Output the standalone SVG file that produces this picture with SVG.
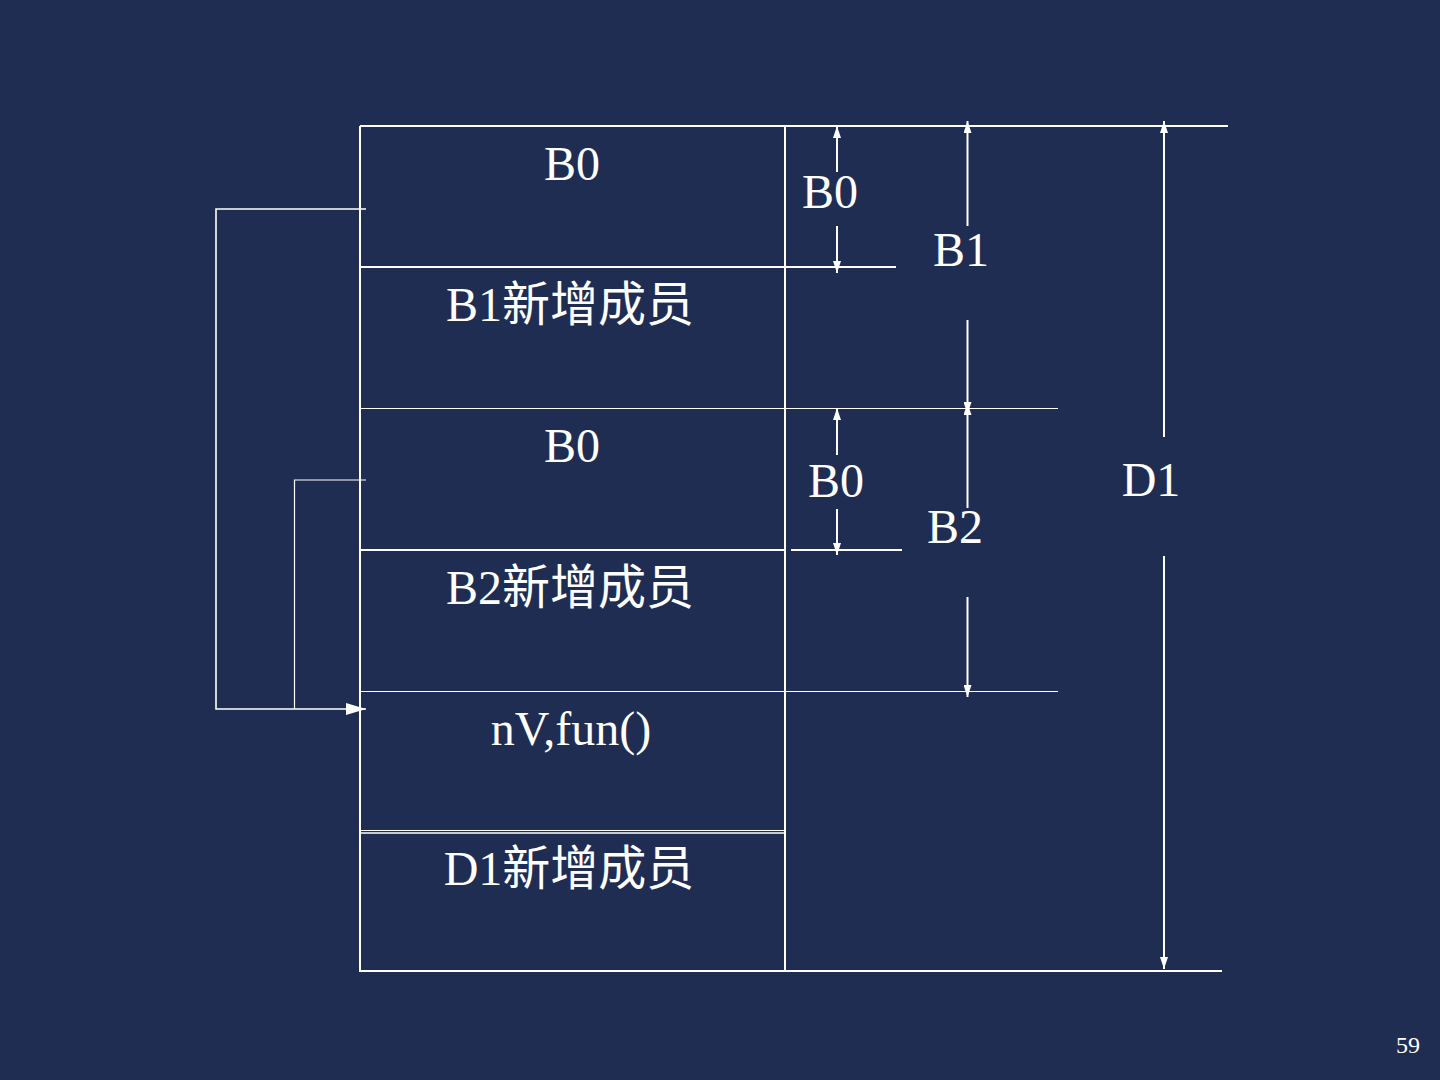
<svg xmlns="http://www.w3.org/2000/svg" width="1440" height="1080" viewBox="0 0 1440 1080">
<style>
.ln{stroke:#ffffff;fill:none}
.t{fill:#ffffff;font-family:"Liberation Serif","Noto Sans CJK SC",serif;font-size:48px;text-anchor:middle}
.pg{fill:#ffffff;font-family:"Liberation Serif",serif;font-size:24px;text-anchor:middle}
</style>
<defs>
<marker id="dim" markerUnits="userSpaceOnUse" viewBox="0 0 12 8" refX="12" refY="4" markerWidth="12" markerHeight="8" orient="auto">
<path d="M0,0 L12,4 L0,8 Z" fill="#ffffff"/>
</marker>
<marker id="big" markerUnits="userSpaceOnUse" viewBox="0 0 20 12" refX="20" refY="6" markerWidth="20" markerHeight="12" orient="auto">
<path d="M0,0 L20,6 L0,12 Z" fill="#ffffff"/>
</marker>
</defs>
<rect x="0" y="0" width="1440" height="1080" fill="#1f2d52"/>

<g id="frame">
<line class="ln" x1="360" y1="126" x2="1228" y2="126" stroke-width="2"/>
<line class="ln" x1="360" y1="126" x2="360" y2="972" stroke-width="2"/>
<line class="ln" x1="785" y1="126" x2="785" y2="972" stroke-width="2"/>
<line class="ln" x1="360" y1="267" x2="896" y2="267" stroke-width="2"/>
<line class="ln" x1="360" y1="408.5" x2="1058" y2="408.5" stroke-width="1"/>
<line class="ln" x1="360" y1="550" x2="785" y2="550" stroke-width="2"/>
<line class="ln" x1="791" y1="550" x2="902" y2="550" stroke-width="2"/>
<line class="ln" x1="360" y1="691.5" x2="1058" y2="691.5" stroke-width="1"/>
<line class="ln" x1="360" y1="830.5" x2="785" y2="830.5" stroke-width="1"/>
<line class="ln" x1="360" y1="833" x2="785" y2="833" stroke-width="1.5"/>
<line class="ln" x1="360" y1="971" x2="1222" y2="971" stroke-width="2"/>
</g>

<g id="node-b0-top"><text class="t" x="572" y="180">B0</text></g>
<g id="node-b1-new"><text class="t" x="570" y="321">B1新增成员</text></g>
<g id="node-b0-mid"><text class="t" x="572" y="462">B0</text></g>
<g id="node-b2-new"><text class="t" x="570" y="604">B2新增成员</text></g>
<g id="node-nv"><text class="t" x="571" y="745">nV,fun()</text></g>
<g id="node-d1-new"><text class="t" x="569" y="885">D1新增成员</text></g>

<g id="dim-labels">
<text class="t" x="830" y="208">B0</text>
<text class="t" x="961" y="266">B1</text>
<text class="t" x="836" y="497">B0</text>
<text class="t" x="955" y="543">B2</text>
<text class="t" x="1151" y="496">D1</text>
</g>

<g id="connectors">
<line class="ln" x1="837" y1="172" x2="837" y2="126" stroke-width="2" marker-end="url(#dim)"/>
<line class="ln" x1="837" y1="226" x2="837" y2="273" stroke-width="2" marker-end="url(#dim)"/>
<line class="ln" x1="967.5" y1="226" x2="967.5" y2="121" stroke-width="2" marker-end="url(#dim)"/>
<line class="ln" x1="967.5" y1="320" x2="967.5" y2="414" stroke-width="2" marker-end="url(#dim)"/>
<line class="ln" x1="967.5" y1="508" x2="967.5" y2="403" stroke-width="2" marker-end="url(#dim)"/>
<line class="ln" x1="967.5" y1="597" x2="967.5" y2="697" stroke-width="2" marker-end="url(#dim)"/>
<line class="ln" x1="837" y1="455" x2="837" y2="408" stroke-width="2" marker-end="url(#dim)"/>
<line class="ln" x1="837" y1="509" x2="837" y2="555" stroke-width="2" marker-end="url(#dim)"/>
<line class="ln" x1="1164" y1="437" x2="1164" y2="121" stroke-width="2" marker-end="url(#dim)"/>
<line class="ln" x1="1164" y1="556" x2="1164" y2="969" stroke-width="2" marker-end="url(#dim)"/>
<polyline class="ln" points="366,209 216,209 216,709 366,709" stroke-width="1.6" marker-end="url(#big)"/>
<polyline class="ln" points="366,480 294.5,480 294.5,709" stroke-width="1.2"/>
</g>

<text class="pg" x="1408" y="1053">59</text>
</svg>
